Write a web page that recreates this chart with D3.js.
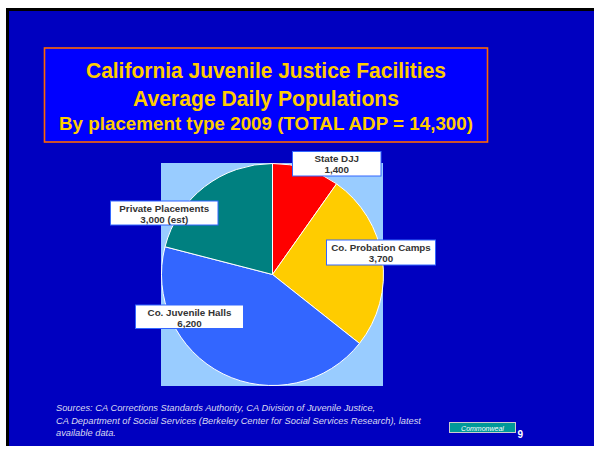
<!DOCTYPE html>
<html><head><meta charset="utf-8">
<script src="https://cdn.jsdelivr.net/npm/d3@7"></script>
<style>html,body{margin:0;padding:0;background:#fff;}svg{display:block;}</style>
</head><body>
<script>
const titleLines = ["California Juvenile Justice Facilities", "Average Daily Populations", "By placement type 2009 (TOTAL ADP = 14,300)"];
const categories = ["State DJJ", "Co. Probation Camps", "Co. Juvenile Halls", "Private Placements"];
const values = [1400, 3700, 6200, 3000];
const valueLabels = ["1,400", "3,700", "6,200", "3,000 (est)"];
const colors = ["#FF0000", "#FFCC00", "#3366FF", "#008080"];
const sources = ["Sources:  CA Corrections Standards Authority, CA Division of Juvenile Justice,",
  "CA Department of Social Services (Berkeley Center for Social Services Research), latest",
  "available data."];

const W = 594, H = 449;
const svg = d3.select("body").append("svg").attr("width", W).attr("height", H);

// slide background with black shadow edge on left/top
svg.append("rect").attr("x", 6).attr("y", 8).attr("width", W - 6).attr("height", 438).attr("fill", "#000");
svg.append("rect").attr("x", 9).attr("y", 11).attr("width", W - 9).attr("height", 435).attr("fill", "#0000C0");

// title box
svg.append("rect").attr("x", 44.5).attr("y", 48).attr("width", 443).attr("height", 94)
  .attr("fill", "#0000FF").attr("stroke", "#FF6600").attr("stroke-width", 1.6);
const tspec = [{y: 78, size: 22, len: 360}, {y: 106, size: 22, len: 266}, {y: 130, size: 19, len: 414}];
titleLines.forEach((t, i) => {
  svg.append("text").attr("x", 266).attr("y", tspec[i].y).attr("text-anchor", "middle")
    .attr("font-family", "Liberation Sans, Arial, sans-serif").attr("font-weight", "bold")
    .attr("font-size", tspec[i].size).attr("fill", "#FFCC00")
    .attr("textLength", tspec[i].len).attr("lengthAdjust", "spacingAndGlyphs").text(t);
});

// plot area
const cx = 272.5, cy = 274.5, r = 111;
svg.append("rect").attr("x", 161).attr("y", 163).attr("width", 222).attr("height", 223).attr("fill", "#99CCFF");

const pie = d3.pie().sort(null).value(d => d)(values);
const arc = d3.arc().innerRadius(0).outerRadius(r);
const g = svg.append("g").attr("transform", `translate(${cx},${cy})`);
g.selectAll("path").data(pie).enter().append("path")
  .attr("d", arc).attr("fill", (d, i) => colors[i]).attr("stroke", "#fff").attr("stroke-width", 1);

// data labels
const boxes = [
  {x: 292.5, y: 151.5, w: 88.5, h: 24.5},
  {x: 326.5, y: 240, w: 109, h: 25},
  {x: 135.5, y: 305, w: 108, h: 23.5},
  {x: 110.5, y: 201, w: 107.5, h: 24}
];
categories.forEach((c, i) => {
  const b = boxes[i];
  svg.append("rect").attr("x", b.x).attr("y", b.y).attr("width", b.w).attr("height", b.h)
    .attr("fill", "#fff").attr("stroke", "#3366FF").attr("stroke-width", 1);
  const tx = b.x + b.w / 2;
  svg.append("text").attr("x", tx).attr("y", b.y + 10.5).attr("text-anchor", "middle")
    .attr("font-family", "Liberation Sans, Arial, sans-serif").attr("font-weight", "bold")
    .attr("font-size", 9.8).attr("fill", "#333333").text(c);
  svg.append("text").attr("x", tx).attr("y", b.y + 21.5).attr("text-anchor", "middle")
    .attr("font-family", "Liberation Sans, Arial, sans-serif").attr("font-weight", "bold")
    .attr("font-size", 9.8).attr("fill", "#333333").text(valueLabels[i]);
});

// sources
sources.forEach((s, i) => {
  svg.append("text").attr("x", 56).attr("y", 411 + i * 12.5)
    .attr("font-family", "Liberation Sans, Arial, sans-serif").attr("font-style", "italic")
    .attr("font-size", 9.3).attr("fill", "#D8D8F0").text(s);
});

// footer logo
svg.append("rect").attr("x", 449.5).attr("y", 422.5).attr("width", 66).attr("height", 10)
  .attr("fill", "#009999").attr("stroke", "#CCCCCC").attr("stroke-width", 1);
svg.append("text").attr("x", 482.5).attr("y", 430.5).attr("text-anchor", "middle")
  .attr("font-family", "Liberation Sans, Arial, sans-serif").attr("font-style", "italic")
  .attr("font-size", 7).attr("fill", "#FFFFFF").text("Commonweal");
svg.append("text").attr("x", 517.5).attr("y", 437.5)
  .attr("font-family", "Liberation Sans, Arial, sans-serif").attr("font-weight", "bold")
  .attr("font-size", 10).attr("fill", "#FFFFFF").text("9");
</script>
</body></html>
